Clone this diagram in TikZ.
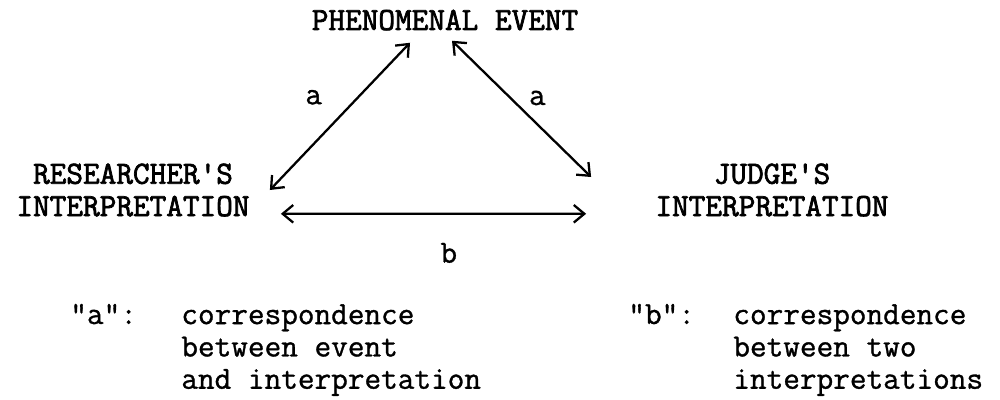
\documentclass[tikz,border=0pt]{standalone}
\usepackage{fontspec}
\newfontfamily\typeheavy{Latin Modern Mono}[FakeBold=2.2]
\newfontfamily\typeplain{Latin Modern Mono}[FakeBold=1]
\usetikzlibrary{arrows.meta, calc}

\begin{document}
\begin{tikzpicture}[x=0.02cm, y=-0.02cm,
  every node/.style={inner sep=0pt, font=\typeplain\fontsize{18.4}{18.4}\selectfont},
  heading/.style={font=\typeheavy\fontsize{18.4}{18.4}\selectfont, align=center},
  link/.style={{Straight Barb[length=6pt,width=10pt]}-{Straight Barb[length=6pt,width=10pt]}, line width=1.3pt},
  note/.style={align=left, anchor=north west}]
  \useasboundingbox (0,0) rectangle (1000,399);

  % the event and the two interpretations
  \node[heading, anchor=base] (event) at (445,30) {PHENOMENAL EVENT};
  \node[heading] (res) at (133,190) {RESEARCHER'S\\INTERPRETATION};
  \node[heading] (judge) at (772,190) {JUDGE'S\\INTERPRETATION};

  % correspondences
  \draw[link] ($(event.south)+(-35,12)$) -- ($(res.east)+(20,0)$)
    node[pos=.37, left=0.7cm] {a};
  \draw[link] ($(event.south)+(7,10)$) -- ($(judge.west)+(-64,-13)$)
    node[pos=.42, right=0.35cm] {a};
  \draw[link] ($(res.south east)+(31,-3)$) -- ($(judge.south west)+(-69,-3)$)
    node[pos=.55, below=0.56cm] {b};

  % key
  \node[anchor=base west] (keyA) at (70,324) {"a":};
  \node[note] (noteA) at (181,304) {correspondence\\between event\\and interpretation};
  \node[anchor=base west] (keyB) at (628,324) {"b":};
  \node[note] (noteB) at (733,304) {correspondence\\between two\\interpretations};
\end{tikzpicture}
\end{document}
